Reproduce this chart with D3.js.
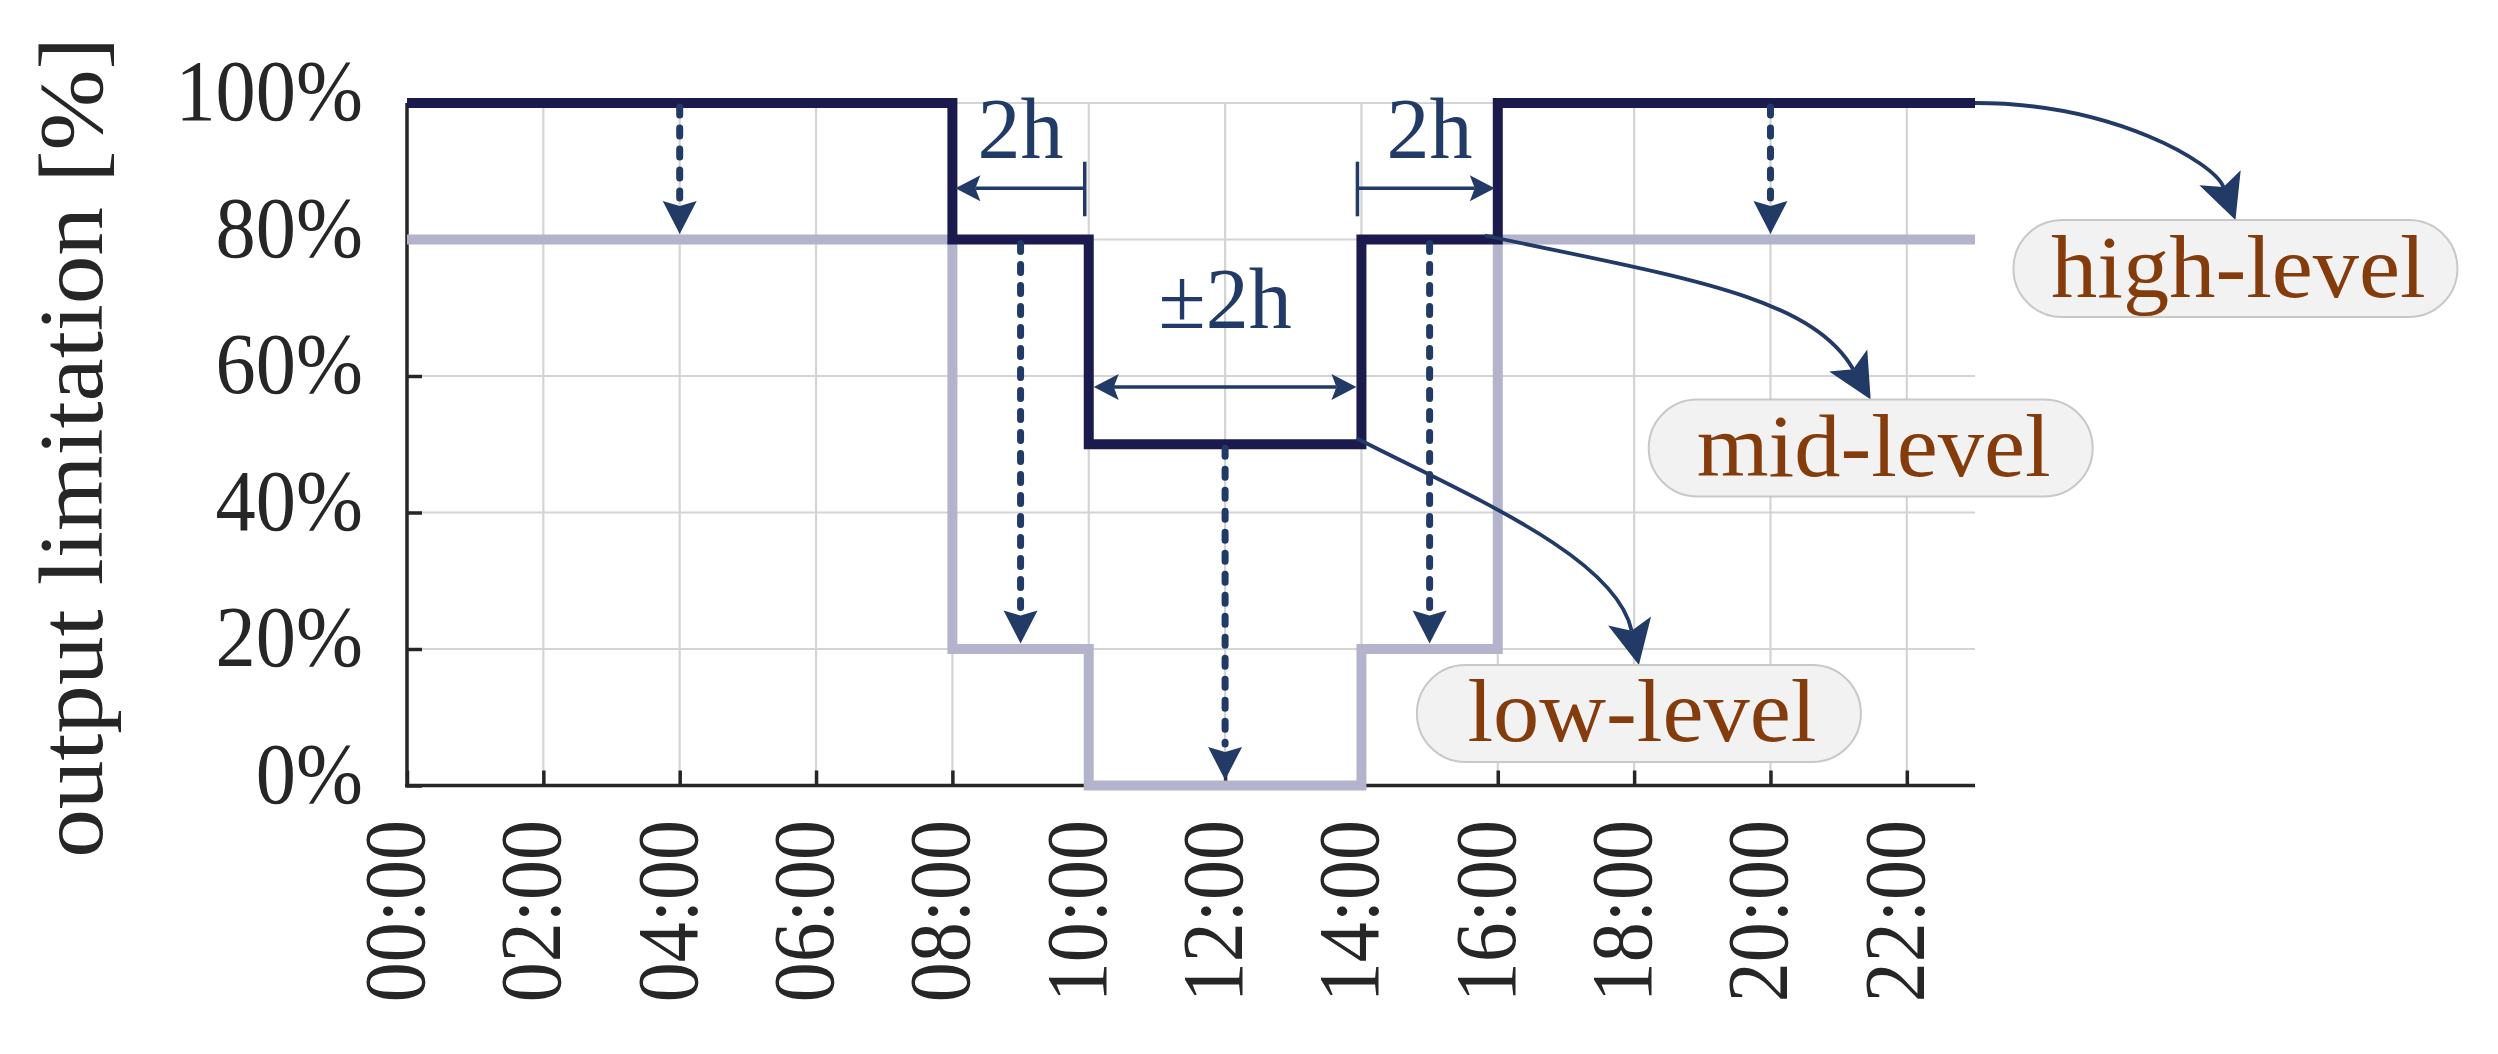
<!DOCTYPE html>
<html><head><meta charset="utf-8">
<script src="https://cdn.jsdelivr.net/npm/d3@7"></script>
<style>html,body{margin:0;padding:0;background:#fff;}svg{display:block;}</style>
</head><body>
<script>
// ---- data ----
const hours = [0, 8, 10, 14, 16, 23];
const highLevel = [100, 80, 50, 80, 100, 100];
const lowLevel = [80, 20, 0, 20, 80, 80];
const xTickValues = [0, 2, 4, 6, 8, 10, 12, 14, 16, 18, 20, 22];
const xTickLabels = ["00:00","02:00","04:00","06:00","08:00","10:00","12:00","14:00","16:00","18:00","20:00","22:00"];
const yTickValues = [0, 20, 40, 60, 80, 100];
const yTickLabels = ["0%","20%","40%","60%","80%","100%"];
const reductionHours = [4, 9, 12, 15, 20];
const labelNames = ["high-level", "mid-level", "low-level"];
const labelHours = [26.82, 21.47, 18.07];
const labelPct = [75.75, 49.45, 10.55];
const yTitle = "output limitation [%]";

// ---- setup ----
const W = 2498, H = 1054;
const svg = d3.select("body").append("svg").attr("width", W).attr("height", H);
const x = d3.scaleLinear().domain([0, 23]).range([407, 1975]);
const y = d3.scaleLinear().domain([0, 100]).range([785.5, 103]);
const FONT = "'Liberation Serif', 'Times New Roman', serif";
const NAVY = "#213a66", DARK = "#1b1a4d", LIGHT = "#b3b3cc", BROWN = "#843c0c", AXIS = "#262626";

function squeeze(sel, f) {
  sel.each(function(){ const n = this.getComputedTextLength(); d3.select(this).attr("textLength", n * f).attr("lengthAdjust", "spacingAndGlyphs"); });
}
function stepVal(arr, h) { let v = arr[0]; for (let i = 0; i < hours.length; i++) if (hours[i] <= h) v = arr[i]; return v; }
function arrowHead(g, tx, ty, ang, L, Wd, N, color) {
  const dx = Math.cos(ang), dy = Math.sin(ang), px = -dy, py = dx;
  const bx = tx - L*dx, by = ty - L*dy;
  const p = [[tx,ty],[bx+Wd*px,by+Wd*py],[tx-(L-N)*dx,ty-(L-N)*dy],[bx-Wd*px,by-Wd*py]];
  g.append("path").attr("d", "M" + p.map(q => q.join(",")).join("L") + "Z").attr("fill", color);
  return [tx-(L-N)*dx, ty-(L-N)*dy];
}
const rad = d => d * Math.PI / 180;

// ---- grid ----
const grid = svg.append("g");
grid.selectAll(".gx").data(xTickValues.filter(d => d > 0)).join("line")
  .attr("x1", d => x(d)).attr("x2", d => x(d)).attr("y1", y(0)).attr("y2", y(100))
  .attr("stroke", "#d4d4d4").attr("stroke-width", 2.2);
grid.selectAll(".gy").data(yTickValues.filter(d => d > 0)).join("line")
  .attr("x1", x(0)).attr("x2", x(23)).attr("y1", d => y(d)).attr("y2", d => y(d))
  .attr("stroke", "#d4d4d4").attr("stroke-width", 2.2);

// ---- axes ----
const xAxis = svg.append("g").attr("transform", `translate(0,${y(0)})`)
  .call(d3.axisBottom(x).tickValues(xTickValues).tickSize(-15).tickFormat(""));
const yAxis = svg.append("g").attr("transform", `translate(${x(0)},0)`)
  .call(d3.axisLeft(y).tickValues(yTickValues).tickSize(-15).tickFormat(""));
[xAxis, yAxis].forEach(a => {
  a.select(".domain").attr("stroke", AXIS).attr("stroke-width", 3.5);
  a.selectAll(".tick line").attr("stroke", AXIS).attr("stroke-width", 3.5);
});
xAxis.select(".domain").attr("d", `M${x(0)-2},0H${x(23)}`);
yAxis.select(".domain").attr("d", `M0,${y(0)+2}V${y(100)}`);

// tick labels
svg.append("g").selectAll("text").data(yTickValues).join("text")
  .attr("x", 363).attr("y", d => y(d) + 17).attr("text-anchor", "end")
  .attr("font-family", FONT).attr("font-size", 86).attr("fill", AXIS)
  .text((d, i) => yTickLabels[i]).call(squeeze, 0.935);
svg.append("g").selectAll("text").data(xTickValues).join("text")
  .attr("transform", d => `translate(${x(d) + 17},820) rotate(-90)`).attr("text-anchor", "end")
  .attr("font-family", FONT).attr("font-size", 86).attr("fill", AXIS)
  .text((d, i) => xTickLabels[i]).call(squeeze, 0.93);
svg.append("text").attr("transform", `translate(102,447.5) rotate(-90)`).attr("text-anchor", "middle")
  .attr("font-family", FONT).attr("font-size", 90).attr("fill", AXIS)
  .text(yTitle).call(squeeze, 1.08);

// ---- step lines ----
const line = d3.line().x((d, i) => x(hours[i])).y(d => y(d)).curve(d3.curveStepAfter);
svg.append("path").attr("d", line(lowLevel)).attr("fill", "none").attr("stroke", LIGHT).attr("stroke-width", 10);
svg.append("path").attr("d", line(highLevel)).attr("fill", "none").attr("stroke", DARK).attr("stroke-width", 10);

// ---- dashed reduction arrows ----
const dg = svg.append("g");
reductionHours.forEach(h => {
  const x0 = x(h), y0 = y(stepVal(highLevel, h)) + 4, y1 = y(stepVal(lowLevel, h)) - 5.5;
  arrowHead(dg, x0, y1, Math.PI / 2, 33, 17, 5, NAVY);
  dg.append("line").attr("x1", x0).attr("x2", x0).attr("y1", y0).attr("y2", y1 - 36)
    .attr("stroke", NAVY).attr("stroke-width", 7).attr("stroke-dasharray", "8 13").attr("stroke-linecap", "round");
});

// ---- 2h annotations ----
const ag = svg.append("g");
function hArrow(fromH, toH, pct, barFrom) {
  const yy = y(pct), xs = x(fromH) - 4, xt = x(toH) + (toH > fromH ? -3 : 3);
  const e = arrowHead(ag, xt, yy, toH > fromH ? 0 : Math.PI, 25, 13, 5, NAVY);
  ag.append("line").attr("x1", xs).attr("x2", e[0]).attr("y1", yy).attr("y2", yy).attr("stroke", NAVY).attr("stroke-width", 3.5);
  ag.append("line").attr("x1", xs).attr("x2", xs).attr("y1", y(barFrom[0])).attr("y2", y(barFrom[1])).attr("stroke", NAVY).attr("stroke-width", 3.5);
}
hArrow(10, 8, 87.5, [91.4, 83.4]);
hArrow(14, 16, 87.5, [91.4, 83.4]);
{
  const yy = y(58.4), a = x(10) + 5, b = x(14) - 5;
  const e1 = arrowHead(ag, a, yy, Math.PI, 25, 13, 5, NAVY);
  const e2 = arrowHead(ag, b, yy, 0, 25, 13, 5, NAVY);
  ag.append("line").attr("x1", e1[0]).attr("x2", e2[0]).attr("y1", yy).attr("y2", yy).attr("stroke", NAVY).attr("stroke-width", 3.5);
}
[[9, 91.9, "2h"], [15, 91.9, "2h"], [12, 67.0, "±2h"]].forEach(t => {
  ag.append("text").attr("x", x(t[0])).attr("y", y(t[1])).attr("text-anchor", "middle")
    .attr("font-family", FONT).attr("font-size", 86).attr("fill", NAVY).text(t[2]);
});

// ---- level labels + curved arrows ----
const lg = svg.append("g");
const boxW = 444, boxH = 97;
const curveStarts = [[x(23), y(100)], [x(16) - 13, y(80) - 4], [x(14) - 5, y(50) - 6]];
const startAng = [0, 12, 27], endAng = [70, 60, 78];
const startLen = [140, 200, 130], endLen = [60, 120, 110];
labelNames.forEach((name, i) => {
  const cx = x(labelHours[i]), cy = y(labelPct[i]);
  const P0 = curveStarts[i], P3 = [cx, cy - boxH / 2];
  const a0 = rad(startAng[i]), a1 = rad(endAng[i]);
  const P1 = [P0[0] + startLen[i] * Math.cos(a0), P0[1] + startLen[i] * Math.sin(a0)];
  const P2 = [P3[0] - endLen[i] * Math.cos(a1), P3[1] - endLen[i] * Math.sin(a1)];
  const e = arrowHead(lg, P3[0], P3[1], a1, 45, 22, 10, NAVY);
  const p = d3.path(); p.moveTo(P0[0], P0[1]); p.bezierCurveTo(P1[0], P1[1], P2[0], P2[1], e[0], e[1]);
  lg.insert("path", ":first-child").attr("d", p.toString()).attr("fill", "none").attr("stroke", NAVY).attr("stroke-width", 3.8);
  lg.append("rect").attr("x", cx - boxW / 2).attr("y", cy - boxH / 2).attr("width", boxW).attr("height", boxH)
    .attr("rx", boxH / 2).attr("ry", boxH / 2).attr("fill", "#f2f2f2").attr("stroke", "#c8c8c8").attr("stroke-width", 2);
  lg.append("text").attr("x", cx + 3).attr("y", cy + 28).attr("text-anchor", "middle")
    .attr("font-family", FONT).attr("font-size", 88).attr("fill", BROWN).text(name).call(squeeze, 1.05);
});
</script>
</body></html>
